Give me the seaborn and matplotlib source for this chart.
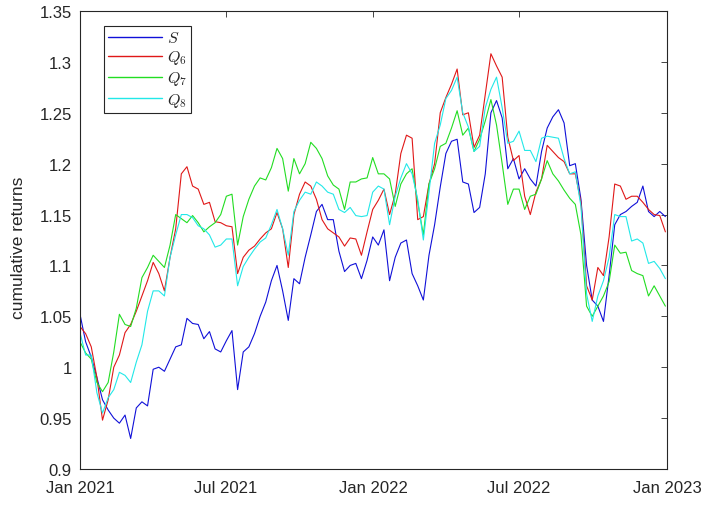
import numpy as np
import pandas as pd
import matplotlib
matplotlib.use("Agg")
import matplotlib.pyplot as plt
import matplotlib.dates as mdates
from matplotlib.ticker import FuncFormatter
import seaborn as sns

# Weekly (Friday) observations of cumulative returns
dates = pd.date_range("2021-01-01", "2022-12-30", freq="W-FRI")

s_vals = [
    1.052, 1.025, 1.010, 0.990, 0.968, 0.958, 0.950, 0.945, 0.953, 0.930,
    0.960, 0.966, 0.962, 0.998, 1.000, 0.996, 1.008, 1.020, 1.022, 1.048,
    1.043, 1.042, 1.028, 1.035, 1.018, 1.015, 1.026, 1.036, 0.978, 1.015,
    1.020, 1.033, 1.050, 1.064, 1.085, 1.100, 1.075, 1.046, 1.087, 1.082,
    1.108, 1.130, 1.153, 1.160, 1.145, 1.145, 1.114, 1.094, 1.100, 1.102,
    1.087, 1.105, 1.128, 1.120, 1.135, 1.085, 1.108, 1.122, 1.125, 1.092,
    1.080, 1.066, 1.110, 1.140, 1.177, 1.210, 1.222, 1.224, 1.182, 1.180,
    1.152, 1.157, 1.190, 1.250, 1.262, 1.245, 1.195, 1.205, 1.185, 1.195,
    1.185, 1.178, 1.212, 1.235, 1.246, 1.253, 1.240, 1.198, 1.200, 1.165,
    1.100, 1.066, 1.060, 1.045, 1.090, 1.140, 1.150, 1.153, 1.158, 1.162,
    1.178, 1.153, 1.148, 1.153, 1.148,
]

q6_vals = [
    1.040, 1.033, 1.020, 0.990, 0.948, 0.968, 1.000, 1.012, 1.034, 1.042,
    1.055, 1.070, 1.085, 1.103, 1.092, 1.075, 1.108, 1.136, 1.190, 1.197,
    1.178, 1.175, 1.160, 1.162, 1.143, 1.142, 1.139, 1.138, 1.092, 1.108,
    1.115, 1.119, 1.126, 1.132, 1.136, 1.152, 1.136, 1.098, 1.150, 1.170,
    1.182, 1.178, 1.165, 1.145, 1.136, 1.132, 1.128, 1.119, 1.127, 1.126,
    1.110, 1.133, 1.155, 1.164, 1.175, 1.150, 1.170, 1.210, 1.228, 1.225,
    1.145, 1.148, 1.180, 1.200, 1.250, 1.265, 1.278, 1.293, 1.248, 1.250,
    1.216, 1.228, 1.268, 1.308, 1.296, 1.285, 1.226, 1.203, 1.208, 1.168,
    1.150, 1.172, 1.185, 1.218, 1.212, 1.206, 1.202, 1.190, 1.190, 1.162,
    1.080, 1.066, 1.098, 1.090, 1.128, 1.180, 1.178, 1.165, 1.168, 1.168,
    1.162, 1.155, 1.150, 1.149, 1.133,
]

q7_vals = [
    1.025, 1.014, 1.008, 0.985, 0.976, 0.985, 1.015, 1.052, 1.042, 1.040,
    1.058, 1.088, 1.098, 1.110, 1.104, 1.098, 1.120, 1.150, 1.146, 1.142,
    1.149, 1.142, 1.133, 1.138, 1.142, 1.150, 1.168, 1.170, 1.120, 1.148,
    1.165, 1.178, 1.186, 1.184, 1.196, 1.215, 1.205, 1.173, 1.205, 1.190,
    1.200, 1.221, 1.215, 1.205, 1.188, 1.179, 1.175, 1.155, 1.182, 1.182,
    1.185, 1.186, 1.206, 1.190, 1.190, 1.185, 1.158, 1.180, 1.190, 1.195,
    1.162, 1.130, 1.180, 1.195, 1.217, 1.220, 1.235, 1.252, 1.228, 1.235,
    1.212, 1.224, 1.242, 1.263, 1.238, 1.200, 1.160, 1.175, 1.175, 1.155,
    1.168, 1.170, 1.185, 1.203, 1.190, 1.183, 1.174, 1.166, 1.160, 1.130,
    1.060, 1.050, 1.060, 1.070, 1.084, 1.120, 1.112, 1.113, 1.095, 1.092,
    1.090, 1.070, 1.080, 1.070, 1.060,
]

q8_vals = [
    1.034, 1.012, 1.012, 0.975, 0.955, 0.970, 0.978, 0.995, 0.992, 0.985,
    1.005, 1.022, 1.055, 1.075, 1.075, 1.070, 1.108, 1.130, 1.150, 1.150,
    1.147, 1.139, 1.136, 1.130, 1.118, 1.120, 1.126, 1.126, 1.080, 1.099,
    1.108, 1.116, 1.123, 1.127, 1.140, 1.155, 1.136, 1.110, 1.153, 1.164,
    1.172, 1.170, 1.182, 1.178, 1.172, 1.170, 1.155, 1.152, 1.157, 1.149,
    1.148, 1.149, 1.172, 1.178, 1.175, 1.140, 1.168, 1.186, 1.200, 1.190,
    1.165, 1.125, 1.172, 1.220, 1.238, 1.264, 1.272, 1.285, 1.250, 1.236,
    1.212, 1.217, 1.255, 1.273, 1.285, 1.255, 1.220, 1.222, 1.232, 1.213,
    1.213, 1.202, 1.225, 1.227, 1.226, 1.225, 1.205, 1.190, 1.192, 1.158,
    1.072, 1.045, 1.070, 1.085, 1.108, 1.150, 1.148, 1.148, 1.124, 1.126,
    1.122, 1.102, 1.104, 1.097, 1.087,
]

series_names = [r"$S$", r"$Q_6$", r"$Q_7$", r"$Q_8$"]
series_colors = ["#1010d8", "#e01818", "#22dd22", "#22e8e8"]

x_tick_dates = ["2021-01-01", "2021-07-01", "2022-01-01", "2022-07-01", "2023-01-01"]
y_ticks = [0.9, 0.95, 1.0, 1.05, 1.1, 1.15, 1.2, 1.25, 1.3, 1.35]

wide = pd.DataFrame({"date": dates,
                     series_names[0]: s_vals,
                     series_names[1]: q6_vals,
                     series_names[2]: q7_vals,
                     series_names[3]: q8_vals})
long = wide.melt(id_vars="date", var_name="series", value_name="ret")

sns.set_style("white")
plt.rcParams["font.family"] = ["Liberation Sans", "DejaVu Sans"]
plt.rcParams["mathtext.fontset"] = "cm"

fig = plt.figure(figsize=(7.04, 5.06), dpi=100)
ax = fig.add_axes([80 / 704, 1 - 470 / 506, 587 / 704, 458 / 506])

sns.lineplot(data=long, x="date", y="ret", hue="series",
             hue_order=series_names,
             palette=dict(zip(series_names, series_colors)),
             linewidth=0.8, ax=ax)

ax.set_xlim(pd.Timestamp("2021-01-01"), pd.Timestamp("2023-01-01"))
ax.set_ylim(0.9, 1.35)
ax.set_xticks(pd.to_datetime(x_tick_dates))
ax.xaxis.set_major_formatter(mdates.DateFormatter("%b %Y"))
ax.set_yticks(y_ticks)
ax.yaxis.set_major_formatter(FuncFormatter(lambda v, p: f"{round(v, 2):g}"))

ax.set_xlabel("")
ax.set_ylabel("cumulative returns", fontsize=12.5, color="#262626")
ax.yaxis.set_label_coords(-0.092, 0.485)

for sp in ax.spines.values():
    sp.set_visible(True)
    sp.set_color("#262626")
    sp.set_linewidth(0.8)
ax.tick_params(direction="in", length=4, width=0.6, top=True, right=True,
               labelsize=12, colors="#262626")
ax.tick_params(axis="x", pad=8)
ax.tick_params(axis="y", pad=6)

handles, labels = ax.get_legend_handles_labels()
leg = ax.legend(handles, labels, loc="upper left",
                bbox_to_anchor=(0.041, 0.967), borderaxespad=0,
                fontsize=11.5, frameon=True, fancybox=False, shadow=False,
                framealpha=1, edgecolor="#262626", handlelength=3.4,
                labelspacing=0.2, borderpad=0.25, handletextpad=0.3)
leg.get_frame().set_linewidth(0.8)
for line in leg.get_lines():
    line.set_linewidth(1.0)

fig.savefig("out.png", dpi=100)
